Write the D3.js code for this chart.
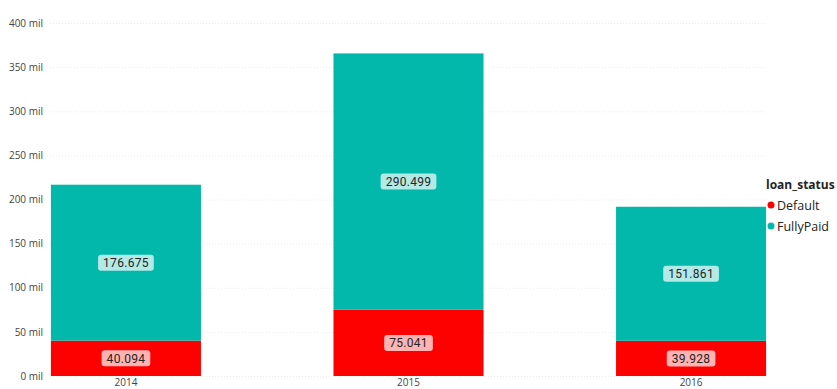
<!DOCTYPE html>
<html>
<head>
<meta charset="utf-8">
<script src="https://cdn.jsdelivr.net/npm/d3@7"></script>
<style>
  html, body { margin: 0; padding: 0; background: #fff; }
  svg { display: block; }
</style>
</head>
<body>
<svg id="chart" width="837" height="389"></svg>
<script>
// Loan amounts (millions) by year, split by loan status
const years = ["2014", "2015", "2016"];
const defaultValues = [40.094, 75.041, 39.928];
const fullyPaidValues = [176.675, 290.499, 151.861];
const seriesNames = ["Default", "FullyPaid"];
const seriesColors = ["#FD0000", "#01B8AA"];
const yTicks = [0, 50, 100, 150, 200, 250, 300, 350, 400];
const legendTitle = "loan_status";

const svg = d3.select("#chart");

const rows = years.map((y, i) => ({ year: y, Default: defaultValues[i], FullyPaid: fullyPaidValues[i] }));
const stacked = d3.stack().keys(seriesNames)(rows);

const x = d3.scaleBand().domain(years).range([43, 774]).paddingInner(0.469).paddingOuter(0.028);
const y = d3.scaleLinear().domain([0, 400]).range([376, 23]);
const color = d3.scaleOrdinal().domain(seriesNames).range(seriesColors);

// Dotted horizontal gridlines
svg.append("g").selectAll("line").data(yTicks).join("line")
  .attr("x1", 50).attr("x2", 767)
  .attr("y1", d => y(d) + 0.5).attr("y2", d => y(d) + 0.5)
  .attr("stroke", "#ececec").attr("stroke-width", 1)
  .attr("stroke-dasharray", "1,2");

// Y axis labels
const yAxis = d3.axisLeft(y).tickValues(yTicks).tickSize(0).tickPadding(0)
  .tickFormat(d => d + " mil");
svg.append("g").attr("transform", "translate(43,0)").call(yAxis)
  .call(g => g.select(".domain").remove())
  .call(g => g.selectAll("text")
    .attr("font-family", "'Open Sans', sans-serif").attr("font-size", 10)
    .attr("fill", "#444"));

// X axis labels
const xAxis = d3.axisBottom(x).tickSize(0).tickPadding(0);
svg.append("g").attr("transform", "translate(0,379)").call(xAxis)
  .call(g => g.select(".domain").remove())
  .call(g => g.selectAll("text")
    .attr("font-family", "'Open Sans', sans-serif").attr("font-size", 10)
    .attr("fill", "#444"));

// Stacked bars
const layers = svg.append("g").selectAll("g").data(stacked).join("g")
  .attr("fill", d => color(d.key));
layers.selectAll("rect").data(d => d).join("rect")
  .attr("x", d => x(d.data.year))
  .attr("width", x.bandwidth())
  .attr("y", d => y(d[1]))
  .attr("height", d => y(d[0]) - y(d[1]));

// Value labels with rounded backgrounds
const fmt = d3.format(".3f");
const labelG = svg.append("g");
stacked.forEach(layer => {
  layer.forEach(d => {
    const cx = x(d.data.year) + x.bandwidth() / 2;
    const cy = (y(d[0]) + y(d[1])) / 2;
    const g = labelG.append("g").attr("transform", `translate(${cx},${cy})`);
    const t = g.append("text")
      .attr("text-anchor", "middle").attr("dy", "0.36em")
      .attr("font-family", "Roboto, sans-serif").attr("font-size", 12)
      .attr("letter-spacing", 0.3)
      .attr("fill", "#252423")
      .text(fmt(d.data[layer.key]));
    const bb = t.node().getBBox();
    g.insert("rect", "text")
      .attr("x", bb.x - 5).attr("y", -8)
      .attr("width", bb.width + 10).attr("height", 16)
      .attr("rx", 3).attr("ry", 3)
      .attr("fill", "#fff").attr("fill-opacity", 0.7);
  });
});

// Legend
const legend = svg.append("g").attr("transform", "translate(766,0)");
legend.append("text").attr("x", 0).attr("y", 189)
  .attr("font-family", "'Open Sans', sans-serif").attr("font-size", 12)
  .attr("font-weight", "bold").attr("fill", "#252423")
  .text(legendTitle);
const items = legend.selectAll("g.item").data(seriesNames).join("g")
  .attr("class", "item")
  .attr("transform", (d, i) => `translate(0,${205 + i * 21})`);
items.append("circle").attr("cx", 5).attr("cy", 0).attr("r", 3.5)
  .attr("fill", d => color(d));
items.append("text").attr("x", 11).attr("y", 0).attr("dy", "0.36em")
  .attr("font-family", "'Open Sans', sans-serif").attr("font-size", 12.5)
  .attr("fill", "#252423")
  .text(d => d);
</script>
</body>
</html>
